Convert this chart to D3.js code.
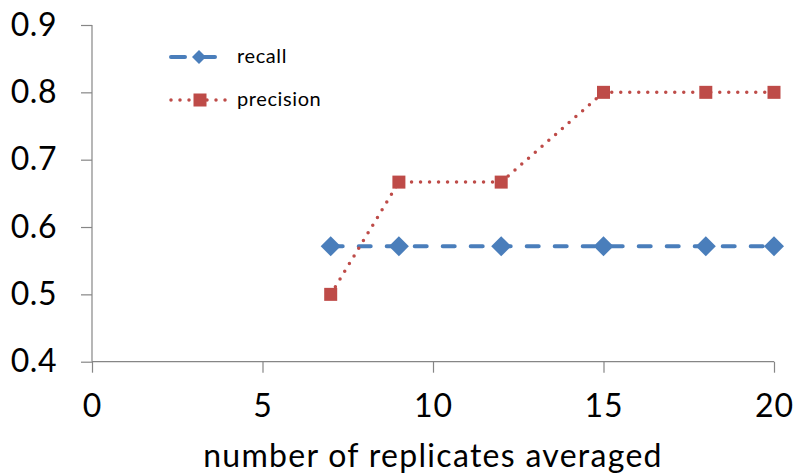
<!DOCTYPE html>
<html><head><meta charset="utf-8">
<script src="https://cdn.jsdelivr.net/npm/d3@7"></script>
<style>body{margin:0;background:#fff}svg{display:block}text{font-family:Lato,"Noto Sans",sans-serif;fill:#000}</style>
</head><body>
<script>
const xValues = [7, 9, 12, 15, 18, 20];
const recall = [0.5714, 0.5714, 0.5714, 0.5714, 0.5714, 0.5714];
const precision = [0.5, 0.6667, 0.6667, 0.8, 0.8, 0.8];
const xTicks = [0, 5, 10, 15, 20];
const yTicks = [0.4, 0.5, 0.6, 0.7, 0.8, 0.9];
const seriesNames = ["recall", "precision"];
const xTitle = "number of replicates averaged";

const W = 796, H = 475;
const svg = d3.select("body").append("svg").attr("width", W).attr("height", H);
const x = d3.scaleLinear().domain([0, 20]).range([92, 774]);
const y = d3.scaleLinear().domain([0.4, 0.9]).range([361.7, 25]);
const axisColor = "#868686";

const gx = svg.append("g").attr("transform", `translate(0,${y(0.4)})`)
  .call(d3.axisBottom(x).tickValues(xTicks).tickSize(11).tickPadding(22).tickFormat(d3.format("d")));
gx.selectAll("text").style("font-size", "32px").style("letter-spacing", "1px");
const gy = svg.append("g").attr("transform", `translate(${x(0)},0)`)
  .call(d3.axisLeft(y).tickValues(yTicks).tickSize(11).tickPadding(24).tickFormat(d3.format(".1f")));
gy.selectAll("text").style("font-size", "32px").style("letter-spacing", "0.5px");
svg.selectAll(".domain, .tick line").attr("stroke", axisColor).attr("stroke-width", 1.2);
gx.select(".domain").attr("d", `M${x(0)},0H${x(20)}`);
gy.select(".domain").attr("d", `M0,${y(0.4)}V${y(0.9)}`);

svg.append("text").attr("x", (x(0) + x(20)) / 2).attr("y", 467).attr("text-anchor", "middle")
  .style("font-size", "32px").style("letter-spacing", "1.3px").text(xTitle);

const blue = "#4A7EBB", red = "#BE4B48";
const line = d3.line().x(d => x(d[0])).y(d => y(d[1]));
const rData = xValues.map((v, i) => [v, recall[i]]);
const pData = xValues.map((v, i) => [v, precision[i]]);

svg.append("path").datum(rData).attr("d", line).attr("fill", "none").attr("stroke", blue)
  .attr("stroke-width", 4).attr("stroke-linecap", "round").attr("stroke-dasharray", "12,16");
svg.append("path").datum(pData).attr("d", line).attr("fill", "none").attr("stroke", red)
  .attr("stroke-width", 3.5).attr("stroke-linecap", "round").attr("stroke-dasharray", "0,9");

function diamondPath(cx, cy, r) { return `M${cx},${cy - r}L${cx + r},${cy}L${cx},${cy + r}L${cx - r},${cy}Z`; }
svg.append("g").selectAll("path").data(rData).join("path")
  .attr("d", d => diamondPath(x(d[0]), y(d[1]), 10)).attr("fill", blue);
svg.append("g").selectAll("rect").data(pData).join("rect")
  .attr("x", d => x(d[0]) - 6.5).attr("y", d => y(d[1]) - 6.5).attr("width", 13).attr("height", 13).attr("fill", red);

// legend
const lg = svg.append("g");
lg.append("line").attr("x1", 171).attr("x2", 218).attr("y1", 57).attr("y2", 57).attr("stroke", blue)
  .attr("stroke-width", 4).attr("stroke-linecap", "round").attr("stroke-dasharray", "14,16");
lg.append("path").attr("d", diamondPath(199, 57, 7)).attr("fill", blue);
lg.append("text").attr("x", 237).attr("y", 63).style("font-size", "20px").style("letter-spacing", "0.6px").text(seriesNames[0]);
lg.append("line").attr("x1", 171).attr("x2", 227).attr("y1", 100).attr("y2", 100).attr("stroke", red)
  .attr("stroke-width", 3.5).attr("stroke-linecap", "round").attr("stroke-dasharray", "0,9");
lg.append("rect").attr("x", 193.5).attr("y", 93.5).attr("width", 13).attr("height", 13).attr("fill", red);
lg.append("text").attr("x", 237).attr("y", 106).style("font-size", "20px").style("letter-spacing", "0.6px").text(seriesNames[1]);
</script>
</body></html>
